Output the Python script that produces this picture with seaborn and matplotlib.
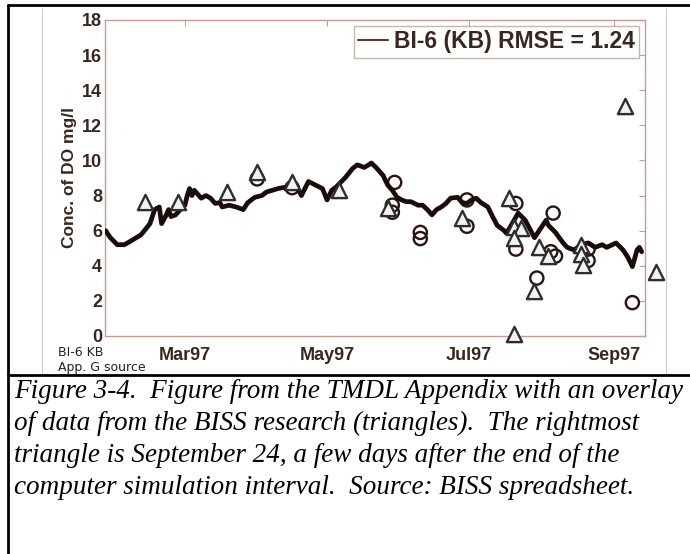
import matplotlib
matplotlib.use('Agg')
import matplotlib.pyplot as plt
import matplotlib.dates as mdates
from matplotlib.lines import Line2D
import seaborn as sns
import pandas as pd

# model output, BI-6 (KB)
model_dates = ['1997-01-26', '1997-01-28', '1997-01-31', '1997-02-03', '1997-02-05',
               '1997-02-10', '1997-02-11', '1997-02-14', '1997-02-16', '1997-02-18',
               '1997-02-19', '1997-02-21', '1997-02-22', '1997-02-23', '1997-02-25',
               '1997-02-27', '1997-03-01', '1997-03-02', '1997-03-03', '1997-03-04',
               '1997-03-05', '1997-03-07', '1997-03-08', '1997-03-10', '1997-03-12',
               '1997-03-14', '1997-03-16', '1997-03-17', '1997-03-20', '1997-03-23',
               '1997-03-26', '1997-03-28', '1997-03-31', '1997-04-03', '1997-04-05',
               '1997-04-10', '1997-04-14', '1997-04-18', '1997-04-20', '1997-04-23',
               '1997-04-26', '1997-04-29', '1997-05-01', '1997-05-03', '1997-05-05',
               '1997-05-09', '1997-05-12', '1997-05-14', '1997-05-17', '1997-05-20',
               '1997-05-22', '1997-05-25', '1997-05-27', '1997-05-29', '1997-05-31',
               '1997-06-02', '1997-06-04', '1997-06-06', '1997-06-09', '1997-06-11',
               '1997-06-13', '1997-06-15', '1997-06-17', '1997-06-19', '1997-06-21',
               '1997-06-23', '1997-06-26', '1997-06-28', '1997-06-30', '1997-07-02',
               '1997-07-04', '1997-07-06', '1997-07-09', '1997-07-11', '1997-07-13',
               '1997-07-16', '1997-07-17', '1997-07-19', '1997-07-22', '1997-07-25',
               '1997-07-27', '1997-07-29', '1997-08-01', '1997-08-03', '1997-08-04',
               '1997-08-07', '1997-08-10', '1997-08-12', '1997-08-15', '1997-08-18',
               '1997-08-21', '1997-08-24', '1997-08-27', '1997-08-29', '1997-09-02',
               '1997-09-05', '1997-09-07', '1997-09-09', '1997-09-11', '1997-09-12',
               '1997-09-13']
model_do = [6.0, 5.6, 5.2, 5.2, 5.35,
            5.75, 5.9, 6.4, 7.2, 7.35,
            6.4, 6.9, 7.2, 6.8, 6.9,
            7.2, 7.45, 8.0, 8.4, 8.0,
            8.3, 8.0, 7.85, 8.0, 7.85,
            7.55, 7.6, 7.35, 7.45, 7.35,
            7.2, 7.6, 7.9, 8.0, 8.2,
            8.4, 8.5, 8.5, 8.0, 8.8,
            8.6, 8.4, 7.75, 8.3, 8.5,
            9.05, 9.55, 9.75, 9.6, 9.85,
            9.6, 9.15, 8.6, 8.3, 7.9,
            7.75, 7.65, 7.65, 7.45, 7.45,
            7.2, 6.9, 7.2, 7.35, 7.55,
            7.85, 7.9, 7.6, 7.55, 7.75,
            7.85, 7.6, 7.35, 6.8, 6.3,
            6.0, 5.85, 6.3, 7.0, 6.6,
            6.1, 5.6, 6.2, 6.6, 6.3,
            5.9, 5.35, 5.05, 4.9, 5.2,
            5.3, 5.05, 5.2, 5.05, 5.3,
            4.9, 4.5, 3.95, 4.9, 5.05,
            4.8]

# observations used in the TMDL appendix (circles)
obs_dates = ['1997-04-01', '1997-04-16', '1997-05-30', '1997-05-29', '1997-05-29',
             '1997-06-10', '1997-06-10', '1997-06-30', '1997-06-30', '1997-07-21',
             '1997-07-21', '1997-07-30', '1997-08-06', '1997-08-05', '1997-08-07',
             '1997-08-21', '1997-08-21', '1997-09-09']
obs_do = [8.95, 8.45, 8.75, 7.45, 7.05,
          5.9, 5.55, 7.75, 6.25, 7.55,
          4.95, 3.3, 7.0, 4.8, 4.55,
          4.95, 4.3, 1.9]

# BISS research data (triangles)
biss_dates = ['1997-02-12', '1997-02-26', '1997-03-19', '1997-04-01', '1997-04-16',
              '1997-05-06', '1997-05-27', '1997-06-28', '1997-07-18', '1997-07-20',
              '1997-07-23', '1997-07-20', '1997-07-20', '1997-07-29', '1997-07-31',
              '1997-08-04', '1997-08-18', '1997-08-18', '1997-08-19', '1997-09-06',
              '1997-09-19']
biss_do = [7.65, 7.65, 8.2, 9.35, 8.8,
           8.3, 7.3, 6.7, 7.85, 6.2,
           6.15, 5.6, 0.1, 2.55, 5.05,
           4.55, 5.2, 4.65, 4.05, 13.1,
           3.65]

legend_label = 'BI-6 (KB) RMSE = 1.24'
caption = ['Figure 3-4.  Figure from the TMDL Appendix with an overlay',
           'of data from the BISS research (triangles).  The rightmost',
           'triangle is September 24, a few days after the end of the',
           'computer simulation interval.  Source: BISS spreadsheet.']

model = pd.DataFrame({'date': pd.to_datetime(model_dates), 'do': model_do})
obs = pd.DataFrame({'date': pd.to_datetime(obs_dates), 'do': obs_do})
biss = pd.DataFrame({'date': pd.to_datetime(biss_dates), 'do': biss_do})

sns.set_style('white')
plt.rcParams['font.family'] = ['Liberation Sans', 'DejaVu Sans']

fig = plt.figure(figsize=(6.9, 5.54), dpi=100)
ax = fig.add_axes([105 / 690, 1 - 336 / 554, 540 / 690, 316 / 554])

txt = '#3a2620'
spine = '#c99a94'

sns.scatterplot(data=obs, x='date', y='do', ax=ax, marker='o', s=90,
                color='none', edgecolor='#2b1512', linewidth=1.7, zorder=2)
sns.lineplot(data=model, x='date', y='do', ax=ax, color='#1a0c0a', lw=3.4,
             zorder=3, sort=False)
sns.scatterplot(data=biss, x='date', y='do', ax=ax, marker='^', s=120,
                color='#f2f2f2', edgecolor='#2e2e2e', linewidth=1.7,
                zorder=4, clip_on=False)
for coll in ax.collections[:1]:
    coll.set_facecolor('none')

ax.set_xlim(pd.Timestamp('1997-01-25 17:00'), pd.Timestamp('1997-09-14 10:00'))
ax.set_ylim(0, 18)
ax.set_yticks(range(0, 19, 2))
ax.xaxis.set_major_locator(mdates.MonthLocator(bymonth=[3, 5, 7, 9]))
ax.xaxis.set_major_formatter(mdates.DateFormatter('%b%y'))

ax.set_xlabel('')
ax.set_ylabel('Conc. of DO mg/l', fontsize=12.5, fontweight='bold', color=txt,
              labelpad=4)
ax.tick_params(axis='both', direction='in', length=4, width=0.8, color=spine,
               labelcolor=txt, labelsize=13, top=True, right=True)
ax.tick_params(axis='y', pad=2)
ax.tick_params(axis='x', pad=8)
for lab in ax.get_xticklabels() + ax.get_yticklabels():
    lab.set_fontweight('bold')
for s in ax.spines.values():
    s.set_color(spine)
    s.set_linewidth(1.0)

handle = Line2D([], [], color='#5a3a2a', lw=1.5)
leg = ax.legend([handle], [legend_label], loc='upper right', frameon=True,
                fancybox=False, prop={'weight': 'bold', 'size': 16.5},
                handlelength=1.3, handletextpad=0.25, borderpad=0.2,
                borderaxespad=0.25)
leg.get_frame().set_edgecolor('#b8a59a')
leg.get_frame().set_linewidth(1.0)
for t in leg.get_texts():
    t.set_color(txt)

# small source note, bottom left
fig.text(58 / 690, 1 - 353 / 554, 'BI-6 KB', fontsize=9, family='DejaVu Sans',
         color='#222222', va='center')
fig.text(58 / 690, 1 - 368 / 554, 'App. G source', fontsize=9,
         family='DejaVu Sans', color='#222222', va='center')

# page frame and scan border
fig.add_artist(Line2D([8 / 690, 1], [1 - 5 / 554, 1 - 5 / 554], color='black', lw=2))
fig.add_artist(Line2D([8 / 690, 8 / 690], [0, 1 - 5 / 554], color='black', lw=2))
fig.add_artist(Line2D([8 / 690, 1], [1 - 375 / 554, 1 - 375 / 554], color='black', lw=2))
fig.add_artist(Line2D([42 / 690, 42 / 690], [1 - 373 / 554, 1 - 8 / 554],
                      color='#cfcfcf', lw=0.8))
fig.add_artist(Line2D([666 / 690, 666 / 690], [1 - 373 / 554, 1 - 8 / 554],
                      color='#cfcfcf', lw=0.8))

for i, line in enumerate(caption):
    fig.text(14 / 690, 1 - (391 + 32 * i) / 554, line, fontsize=19.5,
             family='Liberation Serif', style='italic', color='black', va='center')

fig.savefig('out.png', dpi=100)
